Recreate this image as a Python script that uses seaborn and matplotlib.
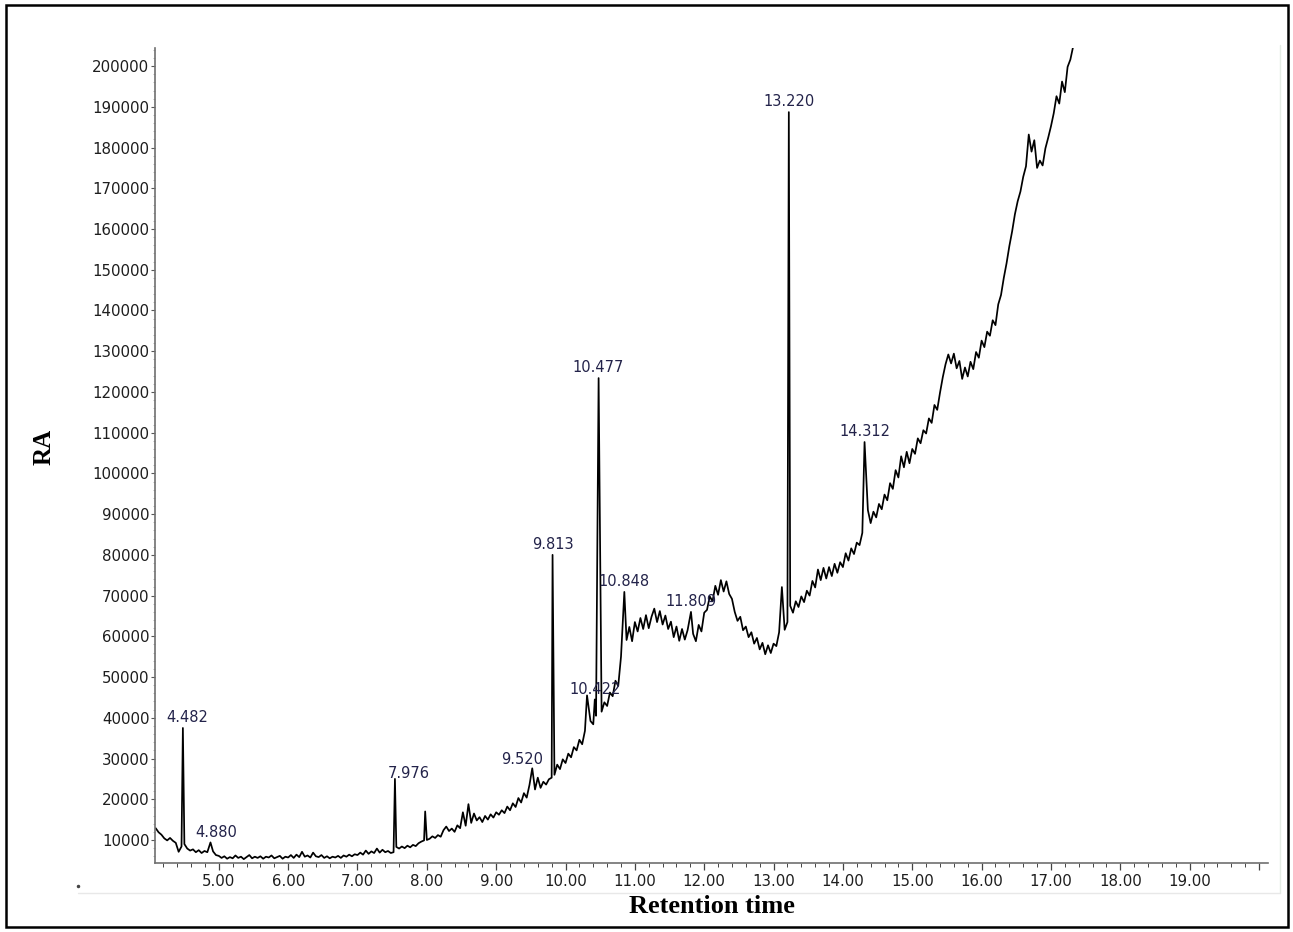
import numpy as np
import pandas as pd
import matplotlib
matplotlib.use("Agg")
import matplotlib.pyplot as plt
from matplotlib.ticker import FixedLocator, MultipleLocator, FuncFormatter
from matplotlib.lines import Line2D
from matplotlib.patches import Rectangle
import seaborn as sns

# ---- chromatogram baseline, sampled every ~0.04 min (start, end, abundances) ----
seg_04 = (4.09, 5.00, [12900, 11900, 11300, 10400, 9900, 10500, 9800, 9300, 7100, 8400,
                       9000, 7900, 7400, 7700, 7000, 7500, 6800, 7300, 7000, 8200,
                       7200, 6300, 6100])
seg_05 = (5.04, 6.00, [5600, 6000, 5400, 5800, 5500, 6200, 5600, 5900, 5300, 5800,
                       6300, 5500, 5900, 5600, 6000, 5400, 5900, 5700, 6200, 5500,
                       5800, 6100, 5400, 5900, 5700])
seg_06 = (6.04, 7.00, [6300, 5600, 6400, 5800, 7100, 5900, 6200, 5700, 6900, 6000,
                       5800, 6300, 5600, 6000, 5500, 5900, 5700, 6100, 5600, 6200,
                       5900, 6400, 6000, 6500, 6300])
seg_07 = (7.04, 8.00, [6900, 6400, 7400, 6600, 7200, 6800, 7900, 6900, 7600, 7000,
                       7300, 6800, 7000, 8300, 7900, 8400, 8000, 8600, 8200, 8800,
                       8500, 9200, 9600, 9900, 10000])
seg_08 = (8.04, 9.00, [10300, 10900, 10500, 11200, 10800, 12400, 13300, 12200, 12800, 12000,
                       13600, 12900, 16800, 13500, 18800, 14200, 16500, 14800, 15600, 14400,
                       15900, 15000, 16300, 15500, 16800])
seg_09 = (9.04, 9.80, [16200, 17300, 16600, 18200, 17300, 19000, 18100, 20300, 19200, 21500,
                       20400, 23500, 24000, 22400, 25300, 22800, 24300, 23600, 24900, 25300])
seg_10 = (9.84, 10.44, [26000, 28500, 27400, 29800, 28900, 31200, 30300, 32800, 32000, 34600,
                        33500, 36800, 36500, 39200, 38400, 40500])
seg_11 = (10.52, 11.00, [41500, 43800, 42900, 46200, 45300, 49100, 47800, 55000, 64000, 59100,
                         62300, 58800, 63500])
seg_12 = (11.04, 12.00, [61200, 64500, 61800, 65200, 62000, 64800, 66800, 63500, 66200, 62900,
                         65100, 61800, 63600, 59800, 62400, 58900, 61800, 59200, 61500, 60000,
                         60600, 58800, 62800, 61200, 65800])
seg_13 = (12.04, 13.08, [66500, 69800, 68600, 72400, 70200, 73800, 71000, 73500, 70400, 69200,
                         66000, 63800, 64800, 61500, 62400, 59800, 61000, 58200, 59600, 56800,
                         58400, 55600, 57800, 55900, 58200, 57600, 61000])
seg_14 = (13.16, 14.28, [61600, 63500, 67500, 65800, 68600, 67200, 69800, 68400, 71200, 70000,
                         73600, 72000, 76400, 73800, 76800, 74200, 77000, 74800, 77800, 75600,
                         78200, 77000, 80400, 78600, 81600, 80200, 83000, 82400, 85400])
seg_15 = (14.36, 15.40, [91000, 87800, 90600, 89200, 92500, 91200, 94800, 93400, 97600, 96200,
                         100800, 99000, 104200, 101500, 105300, 102500, 106000, 104800, 108600, 107400,
                         110600, 109800, 113500, 112400, 116800, 115600, 119800])
seg_16 = (15.44, 16.48, [123600, 126800, 129200, 127000, 129400, 125800, 127600, 123200, 126000, 123800,
                         127400, 125600, 129800, 128400, 132600, 131000, 134800, 133800, 137600, 136400,
                         141500, 143800, 148000, 151600, 155800, 159400, 163600])
seg_17 = (16.52, 17.32, [166800, 169200, 172800, 175400, 183200, 179000, 181800, 175000, 176800, 175600,
                         179800, 182400, 185200, 188400, 192600, 190800, 196200, 193600, 199800, 201600,
                         204800])

# ---- labelled peaks (retention time, apex abundance) ----
peak_rt = [4.482, 4.880, 7.976, 9.520, 9.813, 10.422, 10.477, 10.848, 11.809, 13.220, 14.312]
peak_top = [37500, 9400, 17000, 27600, 80000, 44500, 123400, 70900, 66000, 188700, 107700]
peak_label = ["4.482", "4.880", "7.976", "9.520", "9.813", "10.422", "10.477",
              "10.848", "11.809", "13.220", "14.312"]

# ---- unlabelled peaks ----
other_rt = [7.54, 10.31, 13.12]
other_top = [25000, 45500, 72100]

# axis ticks
y_ticks = list(range(10000, 200001, 10000))
x_ticks = list(range(5, 21))

segments = [seg_04, seg_05, seg_06, seg_07, seg_08, seg_09, seg_10, seg_11,
            seg_12, seg_13, seg_14, seg_15, seg_16, seg_17]
base_t = np.concatenate([np.linspace(a, b, len(v)) for a, b, v in segments])
base_v = np.concatenate([np.asarray(v, dtype=float) for _, _, v in segments])

apex_t = np.array(peak_rt + other_rt)
apex_v = np.array(peak_top + other_top, dtype=float)
keep = np.min(np.abs(base_t[:, None] - apex_t[None, :]), axis=1) > 0.012

df = pd.DataFrame({
    "rt": np.concatenate([base_t[keep], apex_t]),
    "ra": np.concatenate([base_v[keep], apex_v]),
}).sort_values("rt").reset_index(drop=True)

# ---- figure ----
sns.set_style("ticks")
W, H = 1293, 932
fig = plt.figure(figsize=(W / 100, H / 100), dpi=100)
fig.patch.set_facecolor("white")

left, right, top, bottom = 155, 1268, 48, 863
ax = fig.add_axes([left / W, 1 - bottom / H, (right - left) / W, (bottom - top) / H])

sns.lineplot(data=df, x="rt", y="ra", estimator=None, sort=True,
             color="black", linewidth=1.25, ax=ax)

ax.set_xlim(4.08, 20.13)
ax.set_ylim(4350, 204440)

for s in ["top", "right"]:
    ax.spines[s].set_visible(False)
for s in ["left", "bottom"]:
    ax.spines[s].set_color("#707070")
    ax.spines[s].set_linewidth(1.2)

tick_font = dict(family="DejaVu Sans", size=10.8, color="#1e1e1e")

ax.yaxis.set_major_locator(FixedLocator(y_ticks))
ax.yaxis.set_major_formatter(FuncFormatter(lambda v, p: f"{int(v)}"))
ax.yaxis.set_minor_locator(MultipleLocator(2000))
ax.tick_params(axis="y", which="major", direction="out", length=3, width=0.8,
               color="#555555", pad=1)
ax.tick_params(axis="y", which="minor", direction="out", length=1.5, width=0.5,
               color="#999999")

ax.xaxis.set_major_locator(FixedLocator(x_ticks))
ax.xaxis.set_major_formatter(FuncFormatter(lambda v, p: "" if v >= 19.5 else f"{v:.2f}"))
ax.xaxis.set_minor_locator(MultipleLocator(0.2))
ax.tick_params(axis="x", which="major", direction="out", length=5, width=0.9,
               color="#444444", pad=3)
ax.tick_params(axis="x", which="minor", direction="out", length=3, width=0.7,
               color="#444444")
for lab in ax.get_xticklabels() + ax.get_yticklabels():
    lab.set_fontfamily(tick_font["family"])
    lab.set_fontsize(tick_font["size"])
    lab.set_color(tick_font["color"])

# peak retention-time labels
label_shift = {"7.976": (-12, 22), "9.520": (-7, 1), "4.880": (4, 2), "4.482": (3, 2)}
for rt, top_v, txt in zip(peak_rt, peak_top, peak_label):
    dx, dy = label_shift.get(txt, (0, 2))
    ax.annotate(txt, xy=(rt, top_v), xytext=(dx, dy), textcoords="offset points",
                ha="center", va="bottom", fontsize=10.5, family="DejaVu Sans",
                color="#23234a")

ax.set_xlabel("Retention time", fontsize=19, fontweight="bold",
              family="Liberation Serif", color="black")
ax.xaxis.set_label_coords(0.5, -0.039)
ax.xaxis.label.set_va("top")
ax.set_ylabel("RA", fontsize=18, fontweight="bold", family="Liberation Serif",
              color="black")
ax.yaxis.set_label_coords(-0.089, 0.51)

# faint frame of the embedded plot area
fig.add_artist(Line2D([1280 / W, 1280 / W], [1 - 45 / H, 1 - 893 / H],
                      color="#e4ece4", lw=1.0))
fig.add_artist(Line2D([78 / W, 1280 / W], [1 - 893 / H, 1 - 893 / H],
                      color="#e8e8e8", lw=1.0))
fig.add_artist(Line2D([78 / W], [1 - 886 / H], marker="o", markersize=1.5,
                      color="#444444", lw=0))

# outer border
fig.add_artist(Rectangle((6 / W, 5 / H), (1288 - 6) / W, (927 - 5) / H,
                         transform=fig.transFigure, fill=False,
                         edgecolor="black", linewidth=1.8))

fig.savefig("out.png", dpi=100, facecolor="white")
